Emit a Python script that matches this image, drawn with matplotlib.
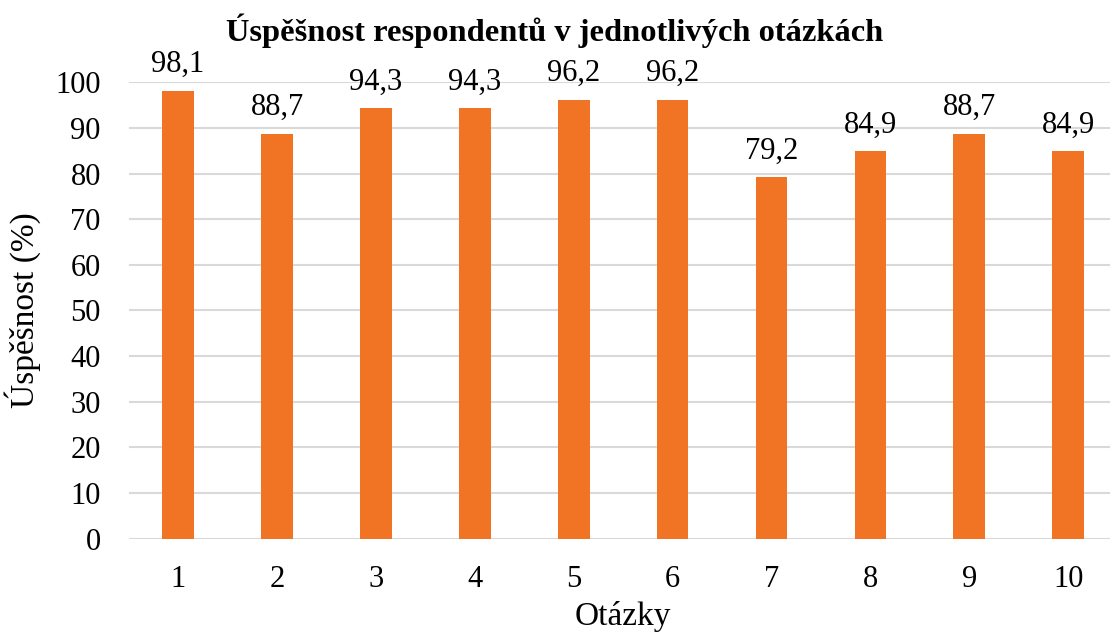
import matplotlib
matplotlib.use("Agg")
import matplotlib.pyplot as plt

otazky = ["1", "2", "3", "4", "5", "6", "7", "8", "9", "10"]
uspesnost = [98.1, 88.7, 94.3, 94.3, 96.2, 96.2, 79.2, 84.9, 88.7, 84.9]
yticks = list(range(0, 101, 10))

plt.rcParams['font.family'] = ['Liberation Serif', 'DejaVu Serif']

fig = plt.figure(figsize=(11.10, 6.34), dpi=100)
ax = fig.add_axes([0.1159, 0.1503, 0.891, 0.72])

x = range(len(otazky))
ax.bar(x, uspesnost, width=0.32, color='#F07423', zorder=3)

# popisky hodnot nad sloupci
for xi, v in zip(x, uspesnost):
    ax.annotate(f"{v:.1f}".replace('.', ','), (xi, v), xytext=(0, 13.5),
                textcoords='offset points', ha='center', va='baseline', fontsize=22)

ax.set_xlim(-0.5, len(otazky) - 0.5)
ax.set_ylim(0, 100)
ax.set_xticks(list(x))
ax.set_xticklabels(otazky)
ax.set_yticks(yticks)
ax.tick_params(axis='both', length=0, labelsize=22)
ax.tick_params(axis='x', pad=19)
ax.tick_params(axis='y', pad=20)
ax.yaxis.grid(True, color='#D9D9D9', linewidth=1.5, zorder=0)
ax.set_axisbelow(True)
for s in ax.spines.values():
    s.set_visible(False)

ax.set_ylabel('Úspěšnost (%)', fontsize=24, labelpad=10)
ax.set_xlabel('Otázky', fontsize=24, labelpad=5)
fig.text(0.5, 0.952, 'Úspěšnost respondentů v jednotlivých otázkách',
         ha='center', va='center', fontsize=23.4, fontweight='bold')

fig.savefig('out.png', dpi=100)
